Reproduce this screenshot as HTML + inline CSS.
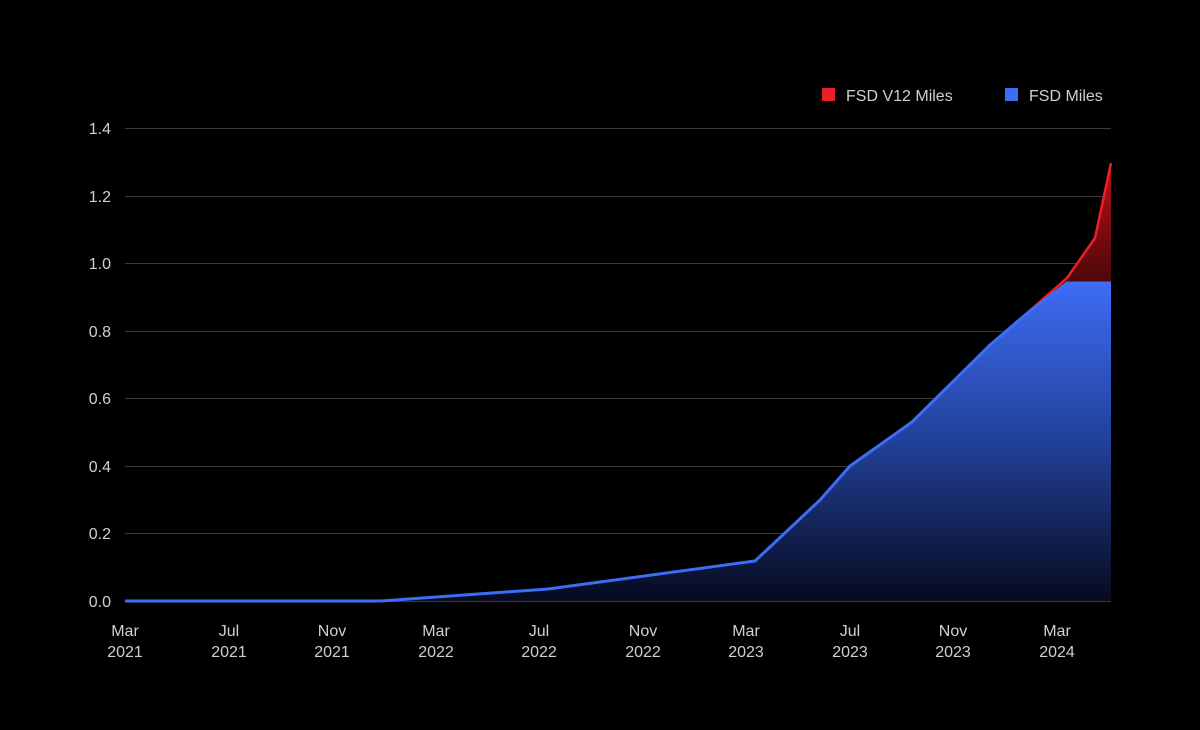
<!DOCTYPE html>
<html><head><style>
body{margin:0;background:#000;}
svg{display:block;font-family:"Liberation Sans",sans-serif;}
</style></head><body>
<svg width="1200" height="730" viewBox="0 0 1200 730">
<defs>
<linearGradient id="bg" x1="0" y1="283" x2="0" y2="601" gradientUnits="userSpaceOnUse">
<stop offset="0" stop-color="#3d6cf5"/><stop offset="0.5" stop-color="#22409a"/><stop offset="1" stop-color="#060a1e"/>
</linearGradient>
<linearGradient id="rg" x1="0" y1="163" x2="0" y2="300" gradientUnits="userSpaceOnUse">
<stop offset="0" stop-color="#c01018"/><stop offset="1" stop-color="#3a0608"/>
</linearGradient>
</defs>
<rect width="1200" height="730" fill="#000"/>
<g stroke="#3a3a3a" stroke-width="1">
<line x1="125" x2="1111" y1="128.5" y2="128.5"/>
<line x1="125" x2="1111" y1="196.5" y2="196.5"/>
<line x1="125" x2="1111" y1="263.5" y2="263.5"/>
<line x1="125" x2="1111" y1="331.5" y2="331.5"/>
<line x1="125" x2="1111" y1="398.5" y2="398.5"/>
<line x1="125" x2="1111" y1="466.5" y2="466.5"/>
<line x1="125" x2="1111" y1="533.5" y2="533.5"/>
<line x1="125" x2="1111" y1="601.5" y2="601.5"/>
</g>
<g fill="#d0d0d0" font-size="16" text-anchor="end">
<text x="111" y="134">1.4</text><text x="111" y="202">1.2</text><text x="111" y="269">1.0</text>
<text x="111" y="337">0.8</text><text x="111" y="404">0.6</text><text x="111" y="472">0.4</text>
<text x="111" y="539">0.2</text><text x="111" y="607">0.0</text>
</g>
<polygon points="1025,315 1067,278 1095,238 1111,163 1111,283 1067,283" fill="url(#rg)"/>
<polyline points="1025,315 1067,278 1095,238 1111,163" fill="none" stroke="#e8202a" stroke-width="2.5"/>
<polygon points="125,601 381,601 548,589 755,561 820,500 850,466 912,422 990,345 1025,315 1067,283 1111,283 1111,601" fill="url(#bg)"/>
<polyline points="125,601 381,601 548,589 755,561 820,500 850,466 912,422 990,345 1025,315 1067,283 1111,283" fill="none" stroke="#3d6cf5" stroke-width="3"/>
<g fill="#d0d0d0" font-size="16" text-anchor="middle">
<text x="125" y="636">Mar</text><text x="125" y="657">2021</text>
<text x="229" y="636">Jul</text><text x="229" y="657">2021</text>
<text x="332" y="636">Nov</text><text x="332" y="657">2021</text>
<text x="436" y="636">Mar</text><text x="436" y="657">2022</text>
<text x="539" y="636">Jul</text><text x="539" y="657">2022</text>
<text x="643" y="636">Nov</text><text x="643" y="657">2022</text>
<text x="746" y="636">Mar</text><text x="746" y="657">2023</text>
<text x="850" y="636">Jul</text><text x="850" y="657">2023</text>
<text x="953" y="636">Nov</text><text x="953" y="657">2023</text>
<text x="1057" y="636">Mar</text><text x="1057" y="657">2024</text>
</g>
<rect x="822" y="88" width="13" height="13" fill="#e8202a"/>
<text x="846" y="101" fill="#d0d0d0" font-size="16">FSD V12 Miles</text>
<rect x="1005" y="88" width="13" height="13" fill="#3d6cf5"/>
<text x="1029" y="101" fill="#d0d0d0" font-size="16">FSD Miles</text>
</svg>
</body></html>
